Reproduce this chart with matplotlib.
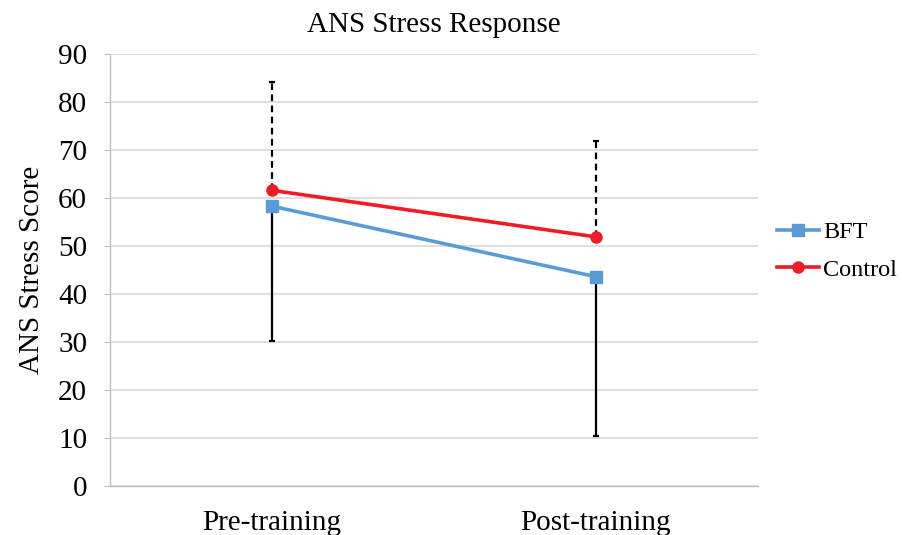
import matplotlib

matplotlib.use("Agg")
import matplotlib.pyplot as plt
import numpy as np

plt.rcParams["font.family"] = ["Liberation Serif", "DejaVu Serif"]

phases = ["Pre-training", "Post-training"]
bft_mean = [58.3, 43.6]
bft_lower = [28.0, 33.1]      # lower error only
control_mean = [61.6, 51.9]
control_upper = [22.6, 20.0]  # upper error only

x = np.arange(len(phases))
grid_color = "#d9d9d9"
fs = 21

fig = plt.figure(figsize=(9.03, 5.35), dpi=100)
ax = fig.add_axes([0.1218, 0.0916, 0.7175, 0.8074])

# error bars under the lines
ax.errorbar(x, bft_mean, yerr=[bft_lower, [0, 0]], fmt="none",
            ecolor="black", elinewidth=1.6, capsize=2.5, capthick=1.6, zorder=2)
eb2 = ax.errorbar(x, control_mean, yerr=[[0, 0], control_upper], fmt="none",
                  ecolor="black", elinewidth=1.6, capsize=2.5, capthick=1.6, zorder=2)
for coll in eb2[2]:
    coll.set_linestyle((0, (3, 2)))

ax.plot(x, bft_mean, color="#5b9bd5", linewidth=2.6, marker="s", markersize=8,
        label="BFT", zorder=3)
ax.plot(x, control_mean, color="#ee1c25", linewidth=2.6, marker="o", markersize=8,
        label="Control", zorder=4)

ax.set_xlim(-0.5, 1.5)
ax.set_ylim(0, 90)
ax.set_yticks(np.arange(0, 91, 10))
ax.set_xticks(x)
ax.set_xticklabels(phases)
ax.yaxis.grid(True, color=grid_color, linewidth=1.2)
ax.set_axisbelow(True)

for side in ("top", "right"):
    ax.spines[side].set_visible(False)
for side in ("left", "bottom"):
    ax.spines[side].set_color("#bfbfbf")
    ax.spines[side].set_linewidth(1.0)

ax.tick_params(axis="y", length=4.5, color="#bfbfbf", labelsize=fs, pad=12)
ax.tick_params(axis="x", length=0, labelsize=fs, pad=17)

ax.set_ylabel("ANS Stress Score", fontsize=fs, labelpad=9)
ax.set_title("ANS Stress Response", fontsize=fs, pad=16)

ax.legend(loc="center left", bbox_to_anchor=(1.0, 0.544), frameon=False,
          fontsize=17.5, handlelength=1.72, handletextpad=0.16, labelspacing=0.62,
          borderaxespad=0.4)

fig.savefig("out.png", dpi=100)
